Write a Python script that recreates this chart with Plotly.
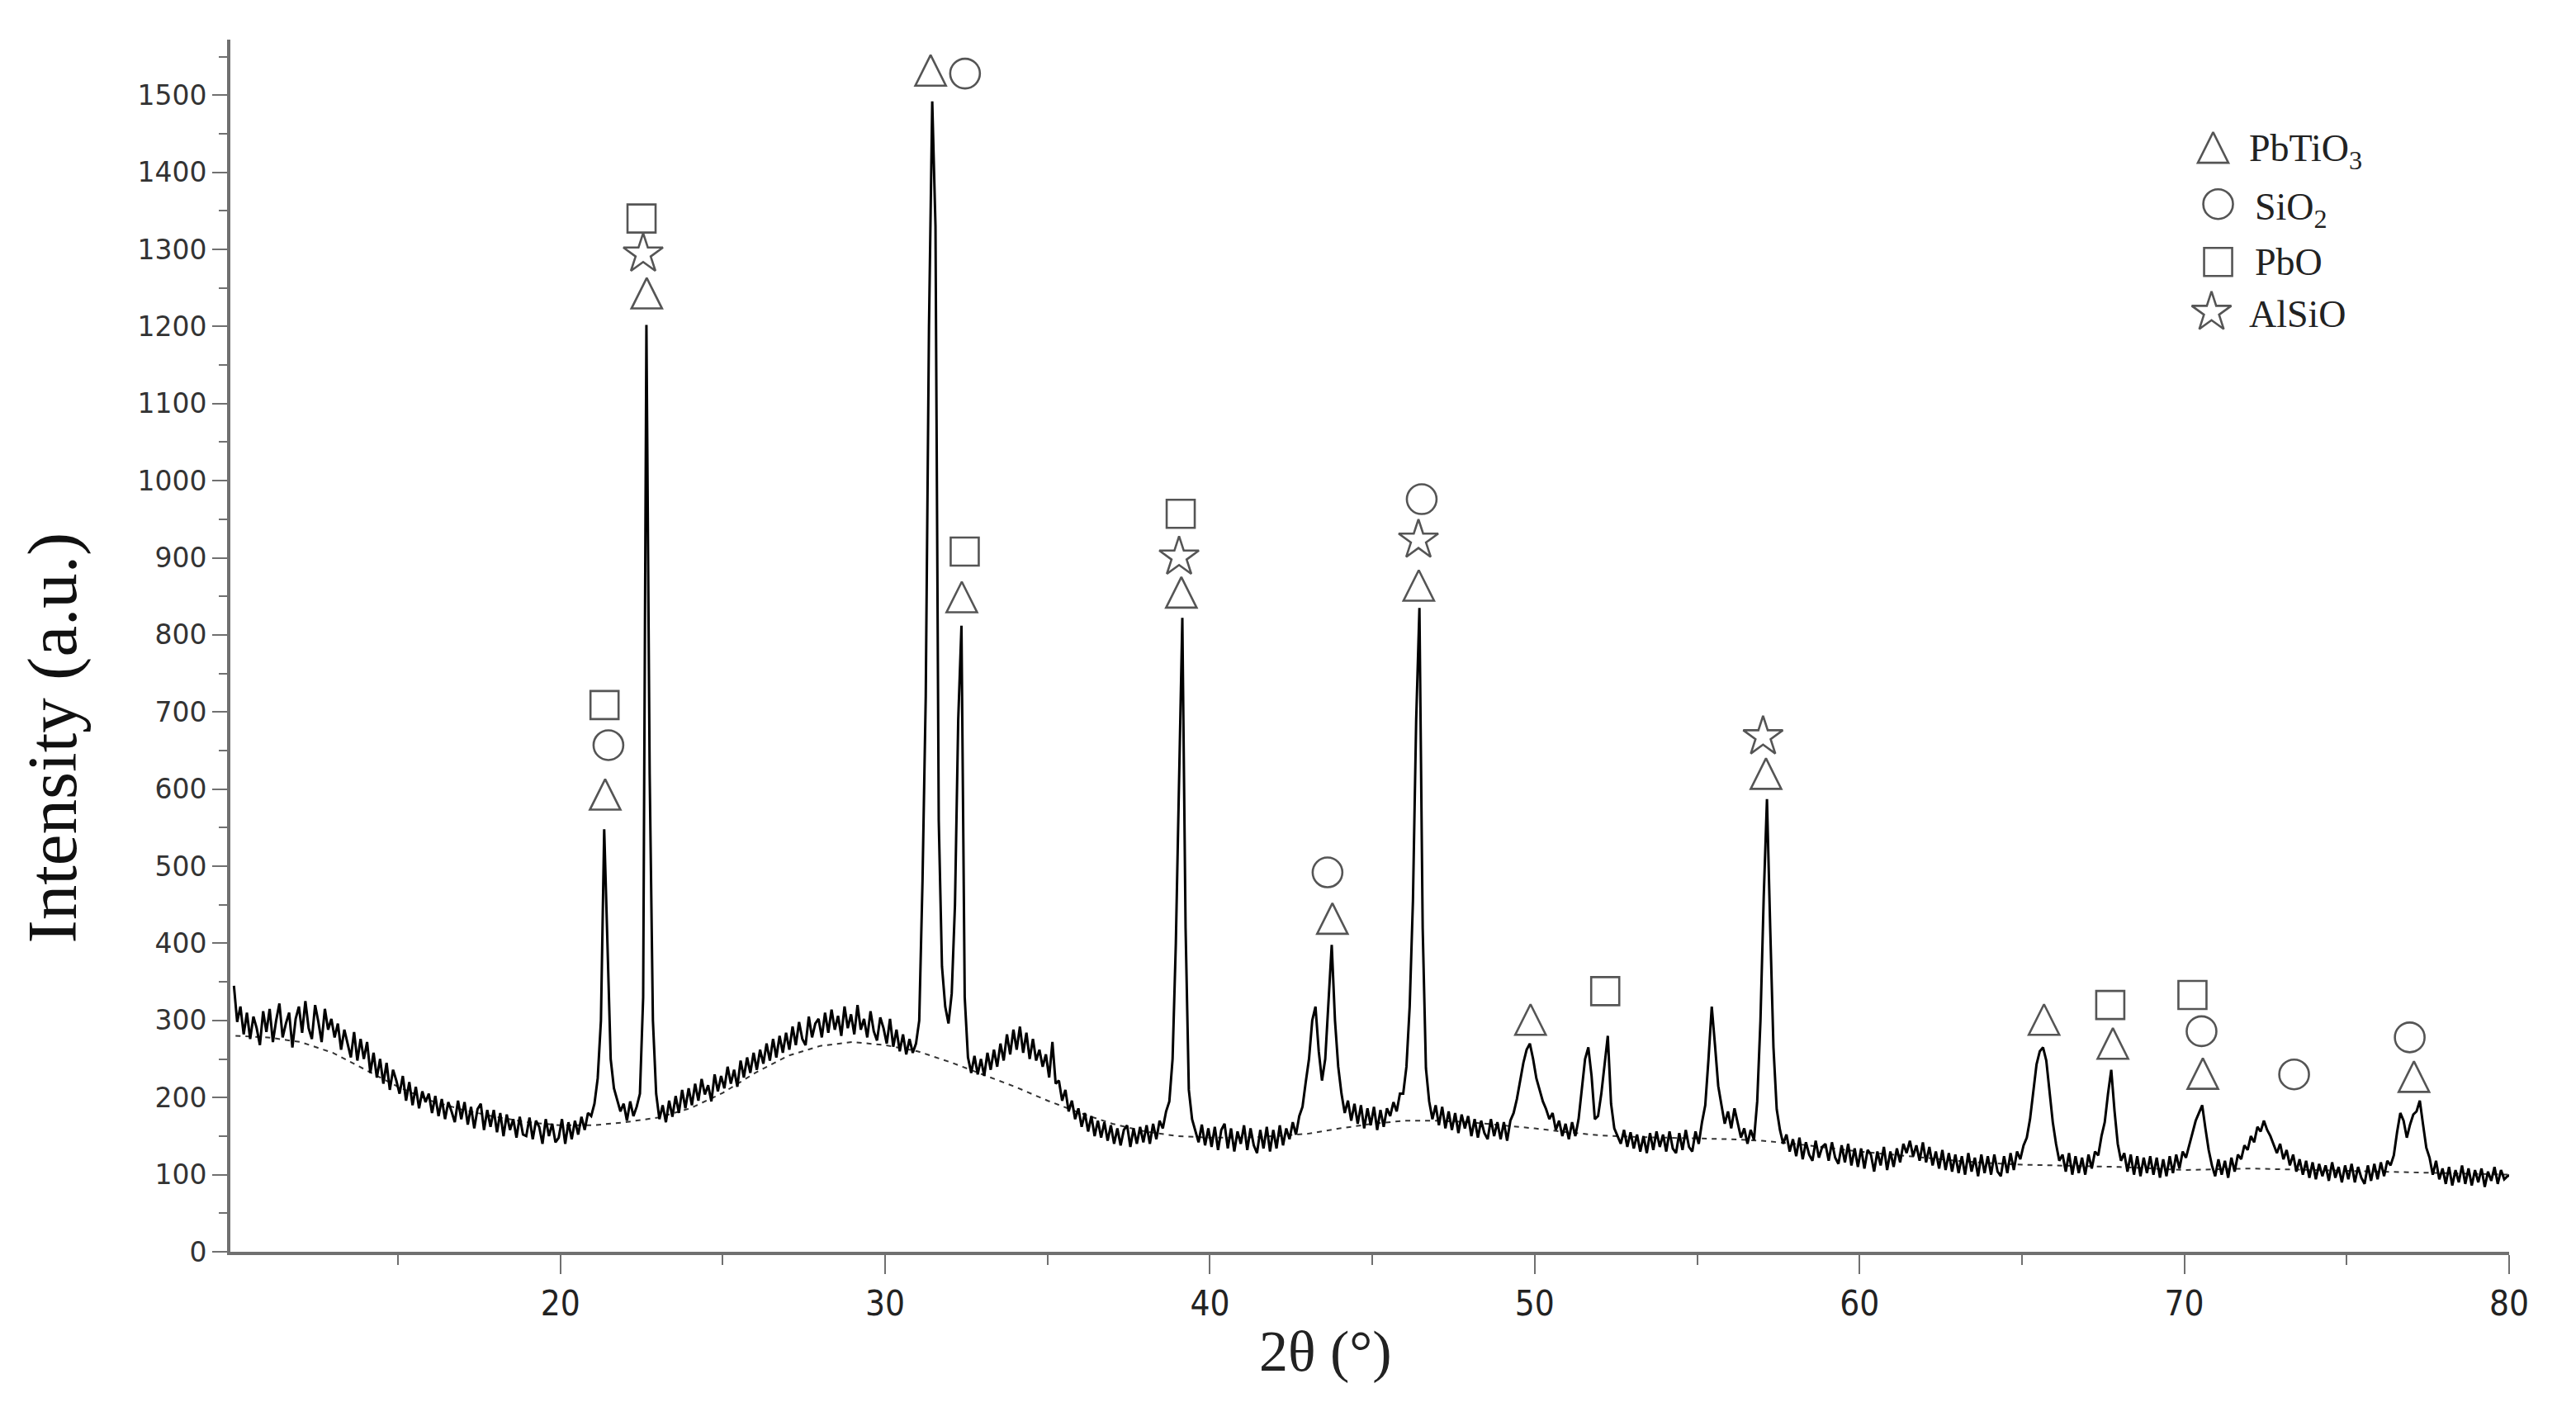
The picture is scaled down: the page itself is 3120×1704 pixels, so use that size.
import plotly.graph_objects as go

# ---------------- data ----------------
scan_start = 9.95
scan_step = 0.1
intensity = [
    345, 298, 318, 282, 310, 276, 305, 290, 268, 312,   # 10
    285, 315, 272, 300, 322, 278, 296, 310, 265, 302,   # 11
    318, 284, 325, 290, 276, 320, 298, 272, 315, 288,   # 12
    302, 278, 296, 262, 288, 270, 252, 285, 248, 276,   # 13
    250, 272, 232, 258, 226, 250, 218, 245, 210, 236,   # 14
    222, 205, 228, 196, 220, 190, 214, 186, 208, 194,   # 15
    205, 180, 202, 176, 198, 172, 194, 182, 168, 196,   # 16
    172, 194, 165, 188, 160, 185, 192, 158, 184, 162,   # 17
    184, 155, 180, 150, 178, 158, 172, 148, 175, 152,   # 18
    150, 174, 146, 170, 162, 140, 172, 150, 166, 142,   # 19
    148, 172, 140, 168, 146, 170, 152, 175, 158, 180,   # 20
    176, 192, 225, 300, 548, 400, 250, 212, 196, 182,   # 21
    192, 170, 195, 176, 188, 205, 330, 1202, 620, 300,  # 22
    205, 172, 190, 168, 196, 175, 202, 180, 210, 186,   # 23
    212, 190, 218, 196, 224, 204, 216, 195, 230, 208,   # 24
    228, 212, 240, 218, 236, 214, 248, 226, 252, 232,   # 25
    258, 236, 262, 244, 270, 248, 276, 252, 280, 258,   # 26
    284, 262, 292, 268, 298, 276, 268, 305, 278, 296,   # 27
    302, 278, 310, 284, 314, 288, 306, 280, 318, 290,   # 28
    308, 282, 320, 288, 302, 278, 312, 286, 274, 304,   # 29
    290, 270, 302, 266, 288, 260, 282, 256, 276, 258,   # 30
    270, 300, 480, 720, 1200, 1492, 1330, 560, 370, 318,  # 31
    296, 335, 450, 690, 812, 330, 252, 232, 254, 230,   # 32
    250, 228, 258, 236, 262, 240, 270, 248, 282, 256,   # 33
    288, 262, 292, 258, 284, 250, 276, 248, 262, 240,   # 34
    256, 226, 272, 218, 222, 196, 210, 182, 196, 172,   # 35
    186, 162, 180, 156, 176, 150, 170, 148, 168, 144,   # 36
    164, 140, 160, 138, 158, 164, 136, 160, 140, 162,   # 37
    142, 164, 140, 166, 146, 170, 160, 182, 195, 250,   # 38
    400, 600, 822, 420, 210, 172, 158, 142, 165, 138,   # 39
    160, 136, 162, 132, 158, 166, 134, 160, 130, 156,   # 40
    140, 164, 132, 160, 138, 128, 158, 134, 162, 130,   # 41
    158, 134, 164, 138, 160, 146, 168, 152, 176, 188,   # 42
    220, 250, 300, 318, 260, 222, 250, 330, 398, 300,   # 43
    240, 205, 180, 196, 170, 192, 166, 190, 160, 186,   # 44
    164, 188, 158, 184, 162, 186, 176, 194, 182, 205,   # 45
    205, 240, 318, 455, 690, 835, 420, 238, 195, 172,   # 46
    190, 164, 188, 160, 182, 158, 180, 154, 178, 160,   # 47
    176, 150, 172, 148, 170, 154, 146, 172, 150, 168,   # 48
    146, 168, 144, 170, 180, 198, 220, 245, 262, 270,   # 49
    250, 225, 210, 195, 185, 172, 180, 158, 170, 150,   # 50
    166, 146, 168, 150, 172, 210, 250, 265, 228, 172,   # 51
    176, 205, 245, 280, 192, 160, 150, 140, 158, 136,   # 52
    155, 134, 152, 130, 150, 128, 154, 132, 156, 136,   # 53
    152, 130, 156, 134, 128, 154, 132, 158, 136, 130,   # 54
    156, 140, 168, 190, 250, 318, 268, 215, 190, 166,   # 55
    182, 160, 186, 168, 148, 160, 140, 158, 145, 195,   # 56
    300, 460, 587, 420, 265, 185, 158, 140, 152, 130,   # 57
    146, 124, 148, 120, 142, 126, 118, 144, 122, 136,   # 58
    140, 118, 142, 122, 114, 138, 116, 140, 112, 134,   # 59
    110, 134, 108, 132, 126, 104, 130, 112, 136, 106,   # 60
    130, 110, 134, 116, 140, 128, 144, 124, 138, 118,   # 61
    142, 116, 136, 112, 130, 108, 132, 106, 128, 104,   # 62
    126, 102, 124, 100, 128, 104, 122, 98, 126, 102,    # 63
    124, 100, 126, 104, 98, 124, 102, 128, 106, 130,    # 64
    120, 138, 148, 172, 210, 243, 260, 265, 248, 205,   # 65
    168, 140, 118, 126, 104, 128, 100, 124, 102, 122,   # 66
    100, 126, 108, 130, 125, 150, 168, 205, 236, 183,   # 67
    140, 118, 128, 104, 126, 100, 124, 98, 122, 102,    # 68
    124, 100, 122, 96, 120, 98, 124, 102, 126, 108,     # 69
    130, 122, 138, 155, 170, 180, 190, 160, 132, 112,   # 70
    98, 120, 100, 118, 96, 122, 104, 126, 120, 138,     # 71
    132, 150, 142, 162, 156, 170, 158, 150, 140, 128,   # 72
    140, 120, 132, 112, 126, 104, 120, 100, 118, 96,    # 73
    116, 94, 114, 98, 112, 92, 116, 96, 110, 90,        # 74
    112, 94, 114, 90, 110, 96, 88, 112, 92, 114,        # 75
    94, 116, 98, 118, 112, 125, 155, 180, 170, 148,     # 76
    165, 178, 182, 196, 165, 135, 122, 100, 118, 94,    # 77
    108, 88, 110, 86, 106, 90, 112, 88, 108, 86,        # 78
    106, 90, 108, 84, 104, 92, 110, 88, 106, 94,        # 79
    98, 100,                                            # 80
]
two_theta = [round(scan_start + scan_step * i, 2) for i in range(len(intensity))]

# amorphous background (dashed)
bg_x = [10, 11, 12, 13, 14, 15, 16, 17, 18, 19, 20, 21, 22, 23, 24, 25, 26, 27, 28, 29,
        30, 31, 32, 33, 34, 35, 36, 37, 38, 39, 40, 41, 42, 43, 44, 45, 46, 47, 48, 49,
        50, 51, 52, 53, 54, 55, 56, 57, 58, 59, 60, 61, 62, 63, 64, 65, 66, 67, 68, 70,
        72, 74, 76, 78, 80]
bg_y = [280, 278, 272, 258, 236, 214, 196, 184, 175, 168, 164, 164, 168, 174, 186, 206, 232, 254, 267, 272,
        268, 260, 246, 230, 214, 196, 180, 166, 156, 150, 148, 148, 150, 153, 160, 166, 170, 170, 168, 164,
        160, 155, 151, 149, 148, 147, 146, 144, 140, 135, 130, 126, 122, 118, 115, 113, 112, 111, 110, 106,
        108, 106, 104, 102, 100]

# phase markers (triangle = apex position)
pbtio3_x = [21.38, 22.66, 31.40, 32.36, 39.12, 43.77, 46.43, 49.87, 57.12, 65.68, 67.80, 70.57, 77.07]
pbtio3_y = [613, 1263, 1552, 869, 875, 452, 884, 321, 640, 321, 290, 251, 247]
sio2_x = [21.48, 32.46, 43.62, 46.52, 70.53, 73.38, 76.94]
sio2_y = [657, 1528, 492, 976, 286, 230, 278]
pbo_x = [21.36, 22.50, 32.45, 39.10, 52.17, 67.72, 70.25]
pbo_y = [709, 1340, 908, 957, 338, 320, 333]
alsio_x = [22.55, 39.05, 46.42, 57.03]
alsio_y = [1294, 901, 923, 668]

legend_labels = ["PbTiO<sub>3</sub>", "SiO<sub>2</sub>", "PbO", "AlSiO"]
legend_symbols = ["arrow-up-open", "circle-open", "square-open", "star-open"]
legend_sym_x = [0.8701, 0.8723, 0.8723, 0.8694]
legend_sym_y = [0.9236, 0.8643, 0.8166, 0.7751]
legend_txt_x = [0.8853, 0.8878, 0.8878, 0.8853]
legend_txt_y = [0.9080, 0.8600, 0.8166, 0.7738]

x_ticks = [20, 30, 40, 50, 60, 70, 80]
x_minor = [15, 25, 35, 45, 55, 65, 75]
y_ticks = list(range(0, 1501, 100))

# ---------------- figure ----------------
MARK = "#555555"
fig = go.Figure()

fig.add_trace(go.Scatter(x=bg_x, y=bg_y, mode="lines",
                         line=dict(color="#333333", width=2, dash="6px,6px"),
                         hoverinfo="skip"))
fig.add_trace(go.Scatter(x=two_theta, y=intensity, mode="lines",
                         line=dict(color="#000000", width=3),
                         hoverinfo="skip"))

for xs, ys, sym, sz in [(pbtio3_x, pbtio3_y, "arrow-up-open", 37),
                        (sio2_x, sio2_y, "circle-open", 36),
                        (pbo_x, pbo_y, "square-open", 34),
                        (alsio_x, alsio_y, "star-open", 36)]:
    fig.add_trace(go.Scatter(x=xs, y=ys, mode="markers",
                             marker=dict(symbol=sym, size=sz, color=MARK,
                                         line=dict(color=MARK, width=2.6)),
                             hoverinfo="skip"))

# legend drawn on an overlay axis pair spanning [0,1]
for sx, sy, sym, sz in zip(legend_sym_x, legend_sym_y, legend_symbols, [37, 36, 34, 36]):
    fig.add_trace(go.Scatter(x=[sx], y=[sy], xaxis="x2", yaxis="y2", mode="markers",
                             marker=dict(symbol=sym, size=sz, color=MARK,
                                         line=dict(color=MARK, width=2.6)),
                             hoverinfo="skip"))

annotations = []
for tx, ty, lab in zip(legend_txt_x, legend_txt_y, legend_labels):
    annotations.append(dict(x=tx, y=ty, xref="paper", yref="paper", text=lab,
                            showarrow=False, xanchor="left", yanchor="middle",
                            font=dict(family="Liberation Serif", size=46, color="#222222")))
annotations.append(dict(x=0.4805, y=-0.082, xref="paper", yref="paper", text="2θ (°)",
                        showarrow=False, xanchor="center", yanchor="middle",
                        font=dict(family="Liberation Serif", size=70, color="#222222")))
annotations.append(dict(x=-0.0784, y=0.4237, xref="paper", yref="paper",
                        text="Intensity (a.u.)", textangle=-90,
                        showarrow=False, xanchor="center", yanchor="middle",
                        font=dict(family="Liberation Serif", size=85, color="#111111")))

AX = "#707070"
fig.update_layout(
    width=3120, height=1704,
    margin=dict(l=271, r=89, t=40, b=196),
    paper_bgcolor="white", plot_bgcolor="white",
    showlegend=False, hovermode=False,
    annotations=annotations,
    xaxis=dict(range=[9.84, 80], showgrid=False, zeroline=False, automargin=False,
               showline=True, linecolor=AX, linewidth=4,
               tickmode="array", tickvals=x_ticks,
               ticks="outside", ticklen=23, tickwidth=2, tickcolor=AX,
               tickfont=dict(family="Liberation Sans Narrow, DejaVu Sans Condensed", size=42, color="#222222"),
               minor=dict(tickmode="array", tickvals=x_minor, ticks="outside",
                          ticklen=12, tickwidth=2, tickcolor=AX)),
    yaxis=dict(range=[0, 1572], showgrid=False, zeroline=False, automargin=False,
               showline=True, linecolor=AX, linewidth=4,
               tickmode="array", tickvals=y_ticks,
               ticks="outside", ticklen=18, tickwidth=2, tickcolor=AX,
               tickfont=dict(family="DejaVu Sans", size=33, color="#333333"),
               minor=dict(dtick=50, tick0=0, ticks="outside",
                          ticklen=10, tickwidth=2, tickcolor=AX)),
    xaxis2=dict(range=[0, 1], overlaying="x", visible=False, anchor="y2"),
    yaxis2=dict(range=[0, 1], overlaying="y", visible=False, anchor="x2"),
)

fig.write_html("out.html")
